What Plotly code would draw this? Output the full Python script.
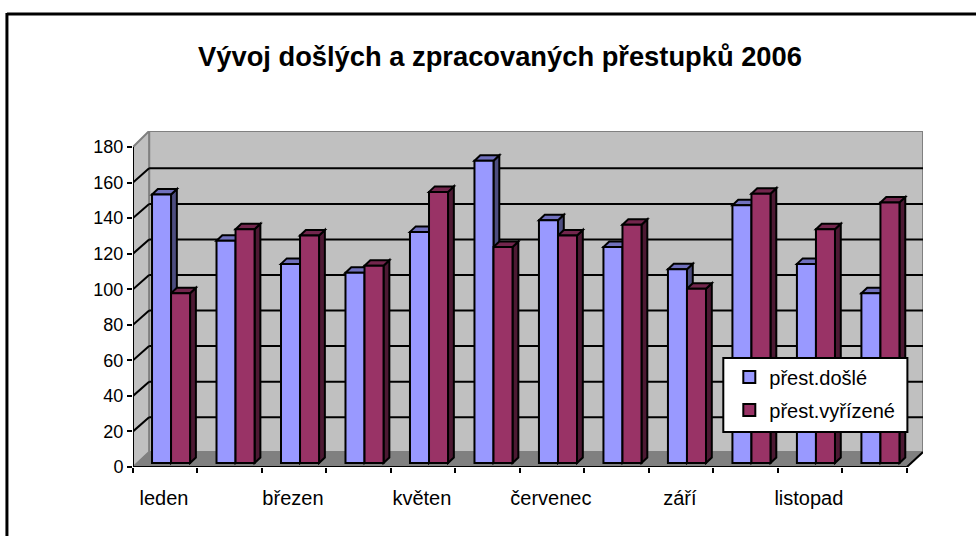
import numpy as np
import plotly.graph_objects as go

months = ["leden", "únor", "březen", "duben", "květen", "červen",
          "červenec", "srpen", "září", "říjen", "listopad", "prosinec"]
dosle = [151, 125, 112, 107, 130, 170, 136.5, 121.5, 109, 145, 112, 95.5]
vyrizene = [95.5, 131.5, 128, 111, 152.5, 121.5, 128, 134, 98, 151.5, 131.5, 146.5]
y_ticks = list(range(0, 181, 20))

W, H = 976, 536
L, R, T, B = 133, 922.6, 131, 467
DX, DY = 0.25, 9.0          # wall depth in axis units
GRID_DY = 8.0               # gridlines on the back wall
FLOOR_DY = 8.4
BAR_DX, BAR_DY = 0.09, 3.1  # bar depth in axis units
BASE = 2.25                 # bars stand slightly inside the floor
BAR_W = 0.295
CENTER = np.arange(12) + 0.59

WALL = "#c0c0c0"
FLOOR = "#808080"
BLUE = ("#9999ff", "#7070bd", "#4d4d80")
MAROON = ("#993366", "#73264d", "#4d1933")


def px(v):
    return (v - L) / (R - L)


def py(v):
    return (B - v) / (B - T)


def poly(pts):
    return "M" + " L".join(f"{a:.4f},{b:.4f}" for a, b in pts) + " Z"


shapes = []


def face(pts, fill, line, width, layer):
    shapes.append(dict(type="path", path=poly(pts), xref="x", yref="y", fillcolor=fill,
                       line=dict(color=line, width=width), layer=layer))


def seg(x0, y0, x1, y1, color="black", width=2, layer="between"):
    shapes.append(dict(type="line", x0=x0, y0=y0, x1=x1, y1=y1, xref="x", yref="y",
                       line=dict(color=color, width=width), layer=layer))


# walls and floor
face([(DX, FLOOR_DY), (12 + DX, FLOOR_DY), (12 + DX, 180 + DY), (DX, 180 + DY)], WALL, FLOOR, 2, "below")
face([(0, 0), (DX, FLOOR_DY), (DX, 180 + DY), (0, 180)], WALL, FLOOR, 2, "below")
face([(0, 0), (12, 0), (12 + DX, FLOOR_DY), (DX, FLOOR_DY)], FLOOR, FLOOR, 1, "below")

# gridlines on back and side wall
for v in y_ticks[1:-1]:
    seg(0, v, DX, v + GRID_DY)
    seg(DX, v + GRID_DY, 12 + DX, v + GRID_DY)

# depth faces of the bars
for i in range(12):
    for vals, colors, off in ((dosle, BLUE, -BAR_W), (vyrizene, MAROON, 0.0)):
        x0 = CENTER[i] + off
        x1 = x0 + BAR_W
        y0 = BASE
        y1 = BASE + vals[i]
        face([(x1, y0), (x1 + BAR_DX, y0 + BAR_DY), (x1 + BAR_DX, y1 + BAR_DY), (x1, y1)],
             colors[2], "black", 2, "between")
        face([(x0, y1), (x1, y1), (x1 + BAR_DX, y1 + BAR_DY), (x0 + BAR_DX, y1 + BAR_DY)],
             colors[1], "black", 2, "between")

# axes drawn to the front plane only
seg(0, 0, 0, 180, layer="above")
seg(0, 0, 12, 0, layer="above")
seg(12, 0, 12 + DX, FLOOR_DY, layer="above")

# legend box and chart border
shapes.append(dict(type="rect", xref="paper", yref="paper", x0=px(723), x1=px(907), y0=py(432), y1=py(358),
                   fillcolor="white", line=dict(color="black", width=2), layer="above"))
shapes.append(dict(type="line", xref="paper", yref="paper", x0=px(7), x1=px(976), y0=py(14), y1=py(14),
                   line=dict(color="black", width=3), layer="above"))
shapes.append(dict(type="line", xref="paper", yref="paper", x0=px(7), x1=px(7), y0=py(13), y1=py(536),
                   line=dict(color="black", width=3), layer="above"))

fig = go.Figure()
for name, vals, colors, off in (("přest.došlé", dosle, BLUE, -BAR_W),
                                ("přest.vyřízené", vyrizene, MAROON, 0.0)):
    fig.add_trace(go.Bar(name=name, x=CENTER, y=vals, base=BASE, width=BAR_W, offset=off,
                         marker=dict(color=colors[0], line=dict(color="black", width=2)),
                         legendgroup=name, text=months, hoverinfo="text+y", textposition="none"))

fig.update_layout(
    width=W, height=H, autosize=False,
    margin=dict(l=L, r=W - R, t=T, b=H - B, pad=0),
    paper_bgcolor="white", plot_bgcolor="white",
    barmode="overlay",
    font=dict(family="Liberation Sans, Arial, sans-serif", size=18, color="black"),
    title=dict(text="<b>Vývoj došlých a zpracovaných přestupků 2006</b>",
               font=dict(size=27.3, color="black"),
               x=500 / W, xref="container", xanchor="center",
               y=1 - 56.5 / H, yref="container", yanchor="middle"),
    xaxis=dict(range=[0, 12 + DX], showgrid=False, zeroline=False, showline=False,
               tickmode="array", tickvals=[i + 0.48 for i in range(0, 12, 2)], ticktext=months[::2],
               ticks="", ticklabelstandoff=17, tickfont=dict(size=20),
               minor=dict(tickmode="array", tickvals=list(range(13)), ticks="outside",
                          ticklen=5, tickwidth=2, tickcolor="black", showgrid=False)),
    yaxis=dict(range=[0, 180 + DY], showgrid=False, zeroline=False, showline=False,
               tickmode="array", tickvals=y_ticks, ticks="outside", ticklen=5, tickwidth=2,
               tickcolor="black", tickfont=dict(size=18)),
    legend=dict(x=px(729), y=py(357.5), xref="paper", yref="paper", xanchor="left", yanchor="top",
                bgcolor="rgba(0,0,0,0)", borderwidth=0, traceorder="grouped", tracegroupgap=4,
                font=dict(size=20), itemwidth=30),
    shapes=shapes,
)
fig.write_html("out.html", config=dict(displayModeBar=False),
               post_script="document.body.style.margin='0';document.body.style.overflow='hidden';")
